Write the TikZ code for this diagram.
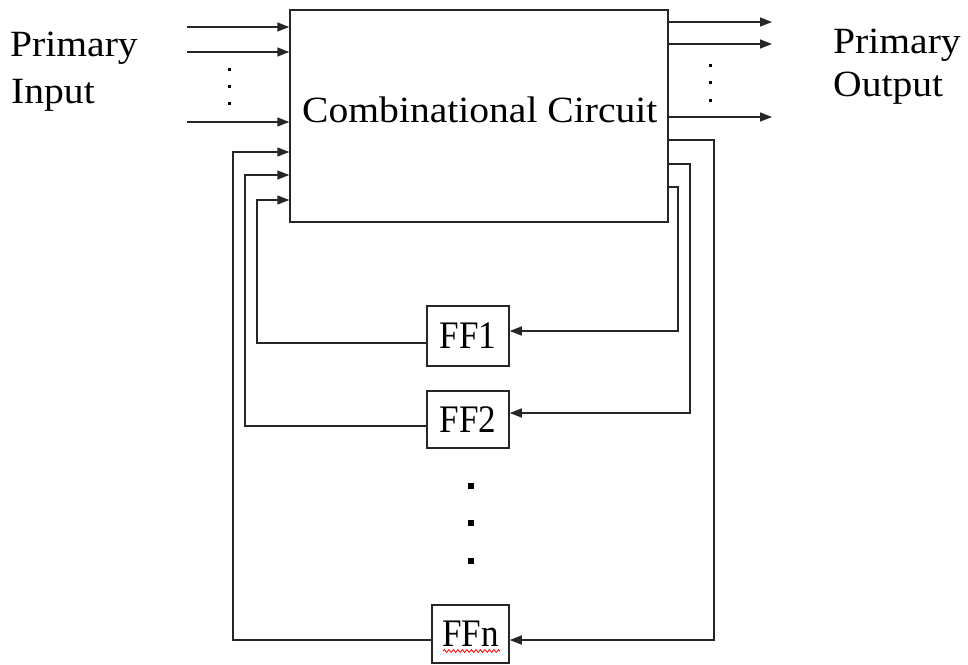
\documentclass[tikz,border=0pt]{standalone}
\usepackage{graphicx}
\usepackage{fontspec}
\setmainfont{Liberation Serif}
\usetikzlibrary{arrows.meta,decorations.pathmorphing}
\tikzset{
  wire/.style={line width=1.5pt, draw=black!85},
  arr/.style={wire, -{Triangle[length=12pt,width=9pt]}},
  bigtxt/.style={inner sep=0pt, anchor=base west, font=\fontsize{37}{44}\selectfont},
  ffbox/.style={draw=black!85, line width=1.5pt, inner sep=0pt, minimum width=82pt,
    font=\fontsize{39}{44}\selectfont, text height=25.5pt, text depth=0pt},
  dotsq/.style={fill=black, inner sep=0pt, minimum size=#1},
}
\begin{document}
\begin{tikzpicture}[x=1pt,y=-1pt]
\useasboundingbox (0,0) rectangle (968,664);
% main box
\node[draw=black!85, line width=1.5pt, minimum width=378pt, minimum height=212pt, inner sep=0pt] (cc) at (479,116) {};
\node[bigtxt] (cct) at (302,122) {\scalebox{1.07}[1]{Combinational Circuit}};
% side texts
\node[bigtxt] (pi1) at (10,56) {\scalebox{1.07}[1]{Primary}};
\node[bigtxt] (pi2) at (11,103) {\scalebox{1.07}[1]{Input}};
\node[bigtxt] (po1) at (833,53) {\scalebox{1.07}[1]{Primary}};
\node[bigtxt] (po2) at (833,96) {\scalebox{1.07}[1]{Output}};
% flip-flops
\node[ffbox, minimum height=60pt] (ff1) at (468,336) {\scalebox{0.9}[1]{FF1}};
\node[ffbox, minimum height=57pt] (ff2) at (468,419.5) {\scalebox{0.9}[1]{FF2}};
\node[ffbox, minimum height=58pt, minimum width=77pt] (ffn) at (470.5,634) {\scalebox{0.9}[1]{FFn}};
\draw[red, line width=0.8pt, decorate, decoration={snake, amplitude=1.4pt, segment length=4.5pt}] (443,651) -- (500,651);
% primary inputs
\coordinate (in1) at (187,27);
\coordinate (in2) at (187,52);
\coordinate (in3) at (187,122);
\draw[arr] (in1) -- (in1 -| cc.west);
\draw[arr] (in2) -- (in2 -| cc.west);
\draw[arr] (in3) -- (in3 -| cc.west);
\node[dotsq=3pt] (di1) at (229,69) {};
\node[dotsq=3pt] (di2) at (229,86) {};
\node[dotsq=3pt] (di3) at (229,103) {};
% primary outputs
\coordinate (out1) at (772,22);
\coordinate (out2) at (772,44);
\coordinate (out3) at (772,117);
\draw[arr] (out1 -| cc.east) -- (out1);
\draw[arr] (out2 -| cc.east) -- (out2);
\draw[arr] (out3 -| cc.east) -- (out3);
\node[dotsq=3pt] (do1) at (710,65) {};
\node[dotsq=3pt] (do2) at (710,82) {};
\node[dotsq=3pt] (do3) at (710,100) {};
% feedback: outputs to FFs
\draw[arr] (cc.east |- 0,187) -- (678,187) -- (678,331) -- (ff1.east |- 0,331);
\draw[arr] (cc.east |- 0,164) -- (690,164) -- (690,413) -- (ff2.east |- 0,413);
\draw[arr] (cc.east |- 0,140) -- (714,140) -- (714,640) -- (ffn.east |- 0,640);
% feedback: FFs back to inputs
\draw[arr] (ff1.west |- 0,343) -- (257,343) -- (257,200) -- (cc.west |- 0,200);
\draw[arr] (ff2.west |- 0,426) -- (245,426) -- (245,175) -- (cc.west |- 0,175);
\draw[arr] (ffn.west |- 0,640) -- (233,640) -- (233,152) -- (cc.west |- 0,152);
% vertical dots
\node[dotsq=5.5pt] (dm1) at (471,486) {};
\node[dotsq=5.5pt] (dm2) at (471,523) {};
\node[dotsq=5.5pt] (dm3) at (471,561) {};
\end{tikzpicture}
\end{document}
